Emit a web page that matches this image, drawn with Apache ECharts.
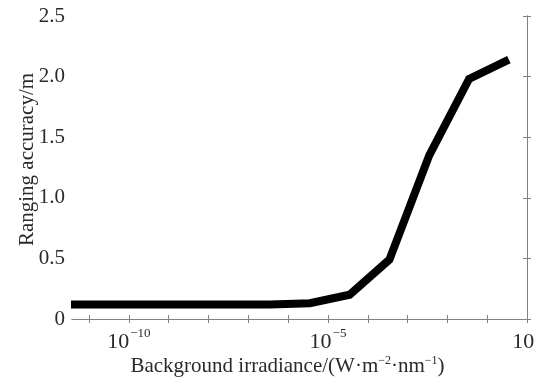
<!DOCTYPE html>
<html>
<head>
<meta charset="utf-8">
<script src="https://cdn.jsdelivr.net/npm/echarts@6/dist/echarts.min.js"></script>
<style>
  html, body { margin: 0; background: #fff; }
  #chart { width: 535px; height: 379px; }
</style>
</head>
<body>
<div id="chart"></div>
<script>
// background irradiance (W·m^-2·nm^-1) and ranging accuracy (m)
const irradiance = [3.5e-12, 3.5e-11, 3.5e-10, 3.5e-9, 3.5e-8, 3.5e-7, 3.5e-6, 3.5e-5, 3.5e-4, 3.5e-3, 3.5e-2, 3.5e-1];
const accuracy = [0.12, 0.12, 0.12, 0.12, 0.12, 0.12, 0.13, 0.2, 0.49, 1.35, 1.98, 2.14];

// x axis in decades (log10)
const xMinExp = -11.43;
const xMaxExp = 0;
const xTickExps = [-11, -10, -9, -8, -7, -6, -5, -4, -3, -2, -1, 0];
const xLabelExps = [-10, -5, 0];

const font = "'Liberation Serif', 'Times New Roman', serif";
const textColor = "#2a2a2a";
const axisColor = "#808080";

const axisLine = { show: true, lineStyle: { color: axisColor, width: 1 } };

const chart = echarts.init(document.getElementById("chart"), null, { renderer: "canvas" });

chart.setOption({
  animation: false,
  backgroundColor: "#fff",
  grid: { left: 72, right: 8, top: 16, bottom: 60, containLabel: false, outerBoundsMode: "none" },
  xAxis: [
    {
      type: "value",
      min: xMinExp,
      max: xMaxExp,
      axisLine,
      splitLine: { show: false },
      axisTick: { inside: true, length: 4, customValues: xTickExps, lineStyle: { color: axisColor } },
      axisLabel: {
        customValues: xLabelExps,
        margin: 8,
        fontFamily: font,
        color: textColor,
        formatter: (v) => `{b|10}{s|${v === 0 ? "0" : "\u2212" + -v}}`,
        rich: {
          b: { fontFamily: font, fontSize: 22, color: textColor, verticalAlign: "bottom" },
          s: { fontFamily: font, fontSize: 13, color: textColor, verticalAlign: "bottom", padding: [0, 0, 13, 1] }
        }
      },
      name: "{t|Background irradiance/(W\u00b7m}{u|\u22122}{t|\u00b7nm}{u|\u22121}{t|)}",
      nameLocation: "middle",
      nameGap: 36,
      nameMoveOverlap: false,
      nameTextStyle: {
        padding: [0, 24, 0, 0],
        rich: {
          t: { fontFamily: font, fontSize: 21, color: textColor, verticalAlign: "bottom" },
          u: { fontFamily: font, fontSize: 12, color: textColor, verticalAlign: "bottom", padding: [0, 0, 10, 0] }
        }
      }
    },
    {
      type: "value",
      position: "top",
      min: xMinExp,
      max: xMaxExp,
      axisLine,
      splitLine: { show: false },
      axisTick: { inside: true, length: 4, customValues: xTickExps, lineStyle: { color: axisColor } },
      axisLabel: { show: false }
    }
  ],
  yAxis: [
    {
      type: "value",
      min: 0,
      max: 2.5,
      interval: 0.5,
      axisLine,
      splitLine: { show: false },
      axisTick: { inside: true, length: 4, lineStyle: { color: axisColor } },
      axisLabel: {
        margin: 7,
        fontFamily: font,
        fontSize: 21,
        color: textColor,
        formatter: (v) => (v === 0 ? "0" : v.toFixed(1))
      },
      name: "Ranging accuracy/m",
      nameLocation: "middle",
      nameGap: 34,
      nameMoveOverlap: false,
      nameTextStyle: { fontFamily: font, fontSize: 21, color: textColor, padding: [0, 0, 0, 16] }
    },
    {
      type: "value",
      position: "right",
      min: 0,
      max: 2.5,
      interval: 0.5,
      axisLine,
      splitLine: { show: false },
      axisTick: { inside: true, length: 4, lineStyle: { color: axisColor } },
      axisLabel: { show: false }
    }
  ],
  series: [
    {
      type: "line",
      data: irradiance.map((x, i) => [Math.log10(x), accuracy[i]]),
      showSymbol: false,
      clip: true,
      lineStyle: { color: "#000", width: 8, join: "miter" }
    }
  ]
});
</script>
</body>
</html>
